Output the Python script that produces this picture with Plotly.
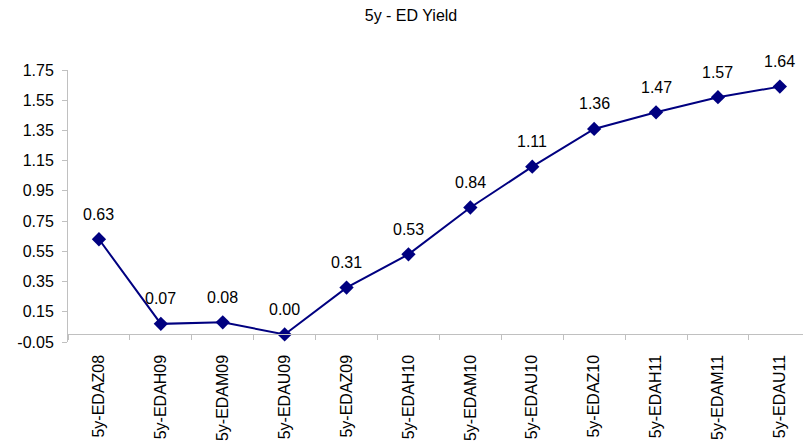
import plotly.graph_objects as go

# 5y swap minus Eurodollar strip yield, by contract
contracts = ["5y-EDAZ08", "5y-EDAH09", "5y-EDAM09", "5y-EDAU09", "5y-EDAZ09",
             "5y-EDAH10", "5y-EDAM10", "5y-EDAU10", "5y-EDAZ10", "5y-EDAH11",
             "5y-EDAM11", "5y-EDAU11"]
yield_spread = [0.63, 0.07, 0.08, 0.00, 0.31, 0.53, 0.84, 1.11, 1.36, 1.47, 1.57, 1.64]
y_ticks = [-0.05, 0.15, 0.35, 0.55, 0.75, 0.95, 1.15, 1.35, 1.55, 1.75]

W, H = 803, 446
FONT = "Arial, Liberation Sans, sans-serif"
NAVY = "#000080"
AXIS_GREY = "#c0c0c0"

y_min, y_max = y_ticks[0], y_ticks[-1]
# category axis crosses the value axis at zero
cross_pos = (0 - y_min) / (y_max - y_min)

fig = go.Figure()
fig.add_trace(go.Scatter(
    x=contracts, y=yield_spread, mode="lines+markers",
    line=dict(color=NAVY, width=2),
    marker=dict(symbol="diamond", size=11, color=NAVY),
    hoverinfo="skip", showlegend=False,
))

for c, v in zip(contracts, yield_spread):
    fig.add_annotation(x=c, y=v, text=f"{v:.2f}", showarrow=False,
                       yshift=25, font=dict(family=FONT, size=16, color="#000"))

fig.update_layout(
    width=W, height=H,
    margin=dict(l=68, r=0, t=70, b=104),
    paper_bgcolor="white", plot_bgcolor="white",
    font=dict(family=FONT, size=16, color="#000"),
    title=dict(text="5y - ED Yield", x=411 / W, xref="container", xanchor="center",
               y=1 - 15 / H, yref="container", yanchor="middle",
               font=dict(family=FONT, size=16, color="#000")),
    xaxis=dict(
        type="category", range=[-0.5, 11.374],
        anchor="free", position=cross_pos,
        showline=True, linecolor=AXIS_GREY, linewidth=1,
        ticks="outside", tickson="boundaries", ticklen=5, tickcolor=AXIS_GREY,
        tickangle=-90, ticklabelstandoff=13,
        showgrid=False, zeroline=False,
    ),
    yaxis=dict(
        range=[y_min, y_max], tickvals=y_ticks,
        ticktext=[f"{t:.2f}" for t in y_ticks],
        showline=True, linecolor=AXIS_GREY, linewidth=1,
        ticks="outside", ticklen=5, tickcolor=AXIS_GREY,
        ticklabelstandoff=5,
        showgrid=False, zeroline=False,
    ),
)

fig.write_html("out.html")
